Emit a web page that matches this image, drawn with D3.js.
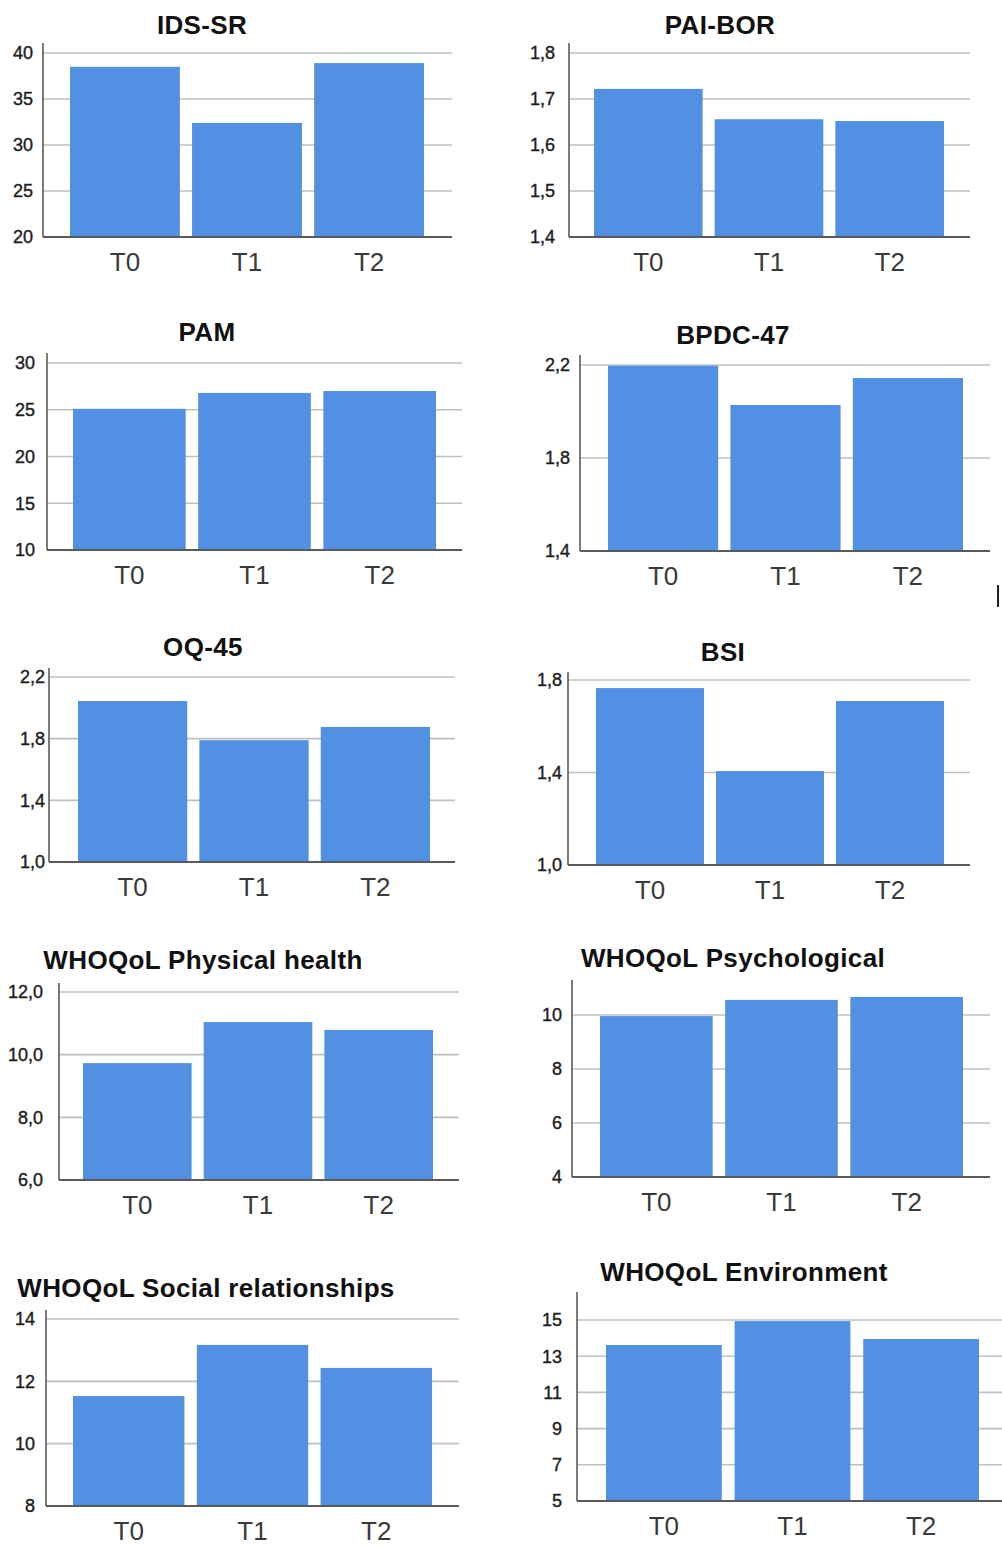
<!DOCTYPE html>
<html>
<head>
<meta charset="utf-8">
<script src="https://cdn.jsdelivr.net/npm/d3@7"></script>
<style>
  html, body { margin: 0; padding: 0; background: #fff; }
  svg { display: block; }
  text { font-family: "Liberation Sans", Arial, sans-serif; }
</style>
</head>
<body>
<svg id="chart" width="1002" height="1546"></svg>
<script>
// ---------- DATA ----------
const categories = ["T0", "T1", "T2"];
const titles = [
  "IDS-SR", "PAI-BOR", "PAM", "BPDC-47", "OQ-45", "BSI",
  "WHOQoL Physical health", "WHOQoL Psychological",
  "WHOQoL Social relationships", "WHOQoL Environment"
];
const idsSr       = [38.5, 32.4, 38.9];
const paiBor      = [1.722, 1.656, 1.652];
const pam         = [25.1, 26.8, 27.0];
const bpdc47      = [2.197, 2.028, 2.144];
const oq45        = [2.044, 1.790, 1.876];
const bsi         = [1.765, 1.406, 1.709];
const whoPhysical = [9.73, 11.04, 10.79];
const whoPsych    = [9.96, 10.56, 10.67];
const whoSocial   = [11.53, 13.17, 12.43];
const whoEnv      = [13.62, 14.94, 13.95];

const ticksIds      = [20, 25, 30, 35, 40];
const ticksPai      = [1.4, 1.5, 1.6, 1.7, 1.8];
const ticksPam      = [10, 15, 20, 25, 30];
const ticksBpdc     = [1.4, 1.8, 2.2];
const ticksOq       = [1.0, 1.4, 1.8, 2.2];
const ticksBsi      = [1.0, 1.4, 1.8];
const ticksPhysical = [6, 8, 10, 12];
const ticksPsych    = [4, 6, 8, 10];
const ticksSocial   = [8, 10, 12, 14];
const ticksEnv      = [5, 7, 9, 11, 13, 15];
const tickDecimals  = [0, 1, 0, 1, 1, 1, 1, 0, 0, 0];

const seriesValues = [idsSr, paiBor, pam, bpdc47, oq45, bsi, whoPhysical, whoPsych, whoSocial, whoEnv];
const seriesTicks  = [ticksIds, ticksPai, ticksPam, ticksBpdc, ticksOq, ticksBsi, ticksPhysical, ticksPsych, ticksSocial, ticksEnv];

// ---------- LAYOUT (pixels) ----------
const layout = [
  {ax: 43,  axTop: 43,   topY: 53,   bottom: 237,  gx1: 452,  bx: [70, 424],  tx: 202, ty: 25,   gap: 10},
  {ax: 569, axTop: 43,   topY: 53,   bottom: 237,  gx1: 970,  bx: [594, 944], tx: 720, ty: 25,   gap: 14},
  {ax: 47,  axTop: 353,  topY: 363,  bottom: 550,  gx1: 462,  bx: [73, 436],  tx: 207, ty: 332,  gap: 12},
  {ax: 580, axTop: 355,  topY: 365,  bottom: 551,  gx1: 990,  bx: [608, 963], tx: 733, ty: 335,  gap: 10},
  {ax: 49,  axTop: 668,  topY: 677,  bottom: 862,  gx1: 455,  bx: [78, 430],  tx: 203, ty: 647,  gap: 4},
  {ax: 568, axTop: 672,  topY: 680,  bottom: 865,  gx1: 970,  bx: [596, 944], tx: 723, ty: 652,  gap: 6},
  {ax: 59,  axTop: 983,  topY: 992,  bottom: 1180, gx1: 459,  bx: [83, 433],  tx: 203, ty: 960,  gap: 16},
  {ax: 572, axTop: 980,  topY: 1015, bottom: 1177, gx1: 990,  bx: [600, 963], tx: 733, ty: 958,  gap: 10},
  {ax: 46,  axTop: 1310, topY: 1319, bottom: 1506, gx1: 459,  bx: [73, 432],  tx: 206, ty: 1288, gap: 11},
  {ax: 577, axTop: 1292, topY: 1320, bottom: 1501, gx1: 1002, bx: [606, 979], tx: 744, ty: 1272, gap: 15}
];

const BAR = "#5290e3";
const GRID = "#c0c0c0";
const AXIS = "#5a5a5a";

const locale = d3.formatLocale({decimal: ",", thousands: ".", grouping: [3], currency: ["", "€"]});

const svg = d3.select("#chart");

seriesValues.forEach((vals, i) => {
  const L = layout[i];
  const ticks = seriesTicks[i];
  const fmt = locale.format("." + tickDecimals[i] + "f");
  const g = svg.append("g");

  const span = L.bx[1] - L.bx[0];
  const step = span / 2.9;
  const x = d3.scaleBand()
    .domain(categories)
    .range([L.bx[0] - 0.05 * step, L.bx[1] + 0.05 * step])
    .paddingInner(0.1)
    .paddingOuter(0.05);

  const y = d3.scaleLinear()
    .domain([ticks[0], ticks[ticks.length - 1]])
    .range([L.bottom, L.topY]);

  // gridlines
  g.selectAll("line.grid")
    .data(ticks.slice(1))
    .join("line")
    .attr("class", "grid")
    .attr("x1", L.ax).attr("x2", L.gx1)
    .attr("y1", d => y(d)).attr("y2", d => y(d))
    .attr("stroke", GRID).attr("stroke-width", 1.6);

  // bars
  g.selectAll("rect.bar")
    .data(vals)
    .join("rect")
    .attr("class", "bar")
    .attr("x", (d, j) => x(categories[j]))
    .attr("width", x.bandwidth())
    .attr("y", d => y(d))
    .attr("height", d => y(ticks[0]) - y(d))
    .attr("fill", BAR);

  // axes lines
  g.append("line")
    .attr("x1", L.ax).attr("x2", L.ax)
    .attr("y1", L.axTop).attr("y2", L.bottom)
    .attr("stroke", AXIS).attr("stroke-width", 1.6);
  g.append("line")
    .attr("x1", L.ax).attr("x2", L.gx1)
    .attr("y1", L.bottom).attr("y2", L.bottom)
    .attr("stroke", AXIS).attr("stroke-width", 1.8);

  // y tick labels
  g.selectAll("text.ytick")
    .data(ticks)
    .join("text")
    .attr("class", "ytick")
    .attr("x", L.ax - L.gap)
    .attr("y", d => y(d))
    .attr("dy", "0.35em")
    .attr("text-anchor", "end")
    .attr("font-size", 18)
    .attr("fill", "#1e1e1e")
    .attr("stroke", "#1e1e1e")
    .attr("stroke-width", 0.4)
    .text(d => fmt(d));

  // x labels
  g.selectAll("text.xlab")
    .data(categories)
    .join("text")
    .attr("class", "xlab")
    .attr("x", d => x(d) + x.bandwidth() / 2)
    .attr("y", L.bottom + 34)
    .attr("text-anchor", "middle")
    .attr("font-size", 26)
    .attr("fill", "#3a3a3a")
    .text(d => d);

  // title
  g.append("text")
    .attr("x", L.tx)
    .attr("y", L.ty + 9)
    .attr("text-anchor", "middle")
    .attr("font-size", 26)
    .attr("font-weight", "bold")
    .attr("letter-spacing", 0.35)
    .attr("fill", "#111")
    .text(titles[i]);
});

// stray mark at right edge in the original figure
svg.append("line")
  .attr("x1", 998).attr("x2", 998)
  .attr("y1", 585).attr("y2", 607)
  .attr("stroke", "#222").attr("stroke-width", 2);
</script>
</body>
</html>
